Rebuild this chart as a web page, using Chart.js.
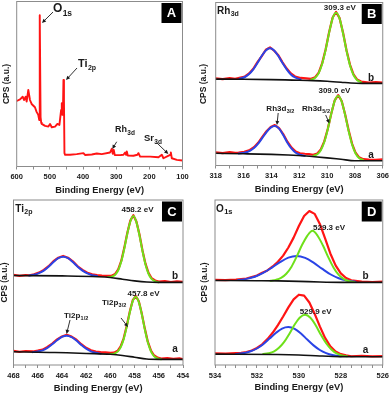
<!DOCTYPE html>
<html>
<head>
<meta charset="utf-8">
<script src="https://cdn.jsdelivr.net/npm/chart.js@4.4.1/dist/chart.umd.min.js"></script>
<style>
  body { margin: 0; background: #fff; width: 392px; height: 395px; overflow: hidden; position: relative; }
  .panel { position: absolute; }
</style>
</head>
<body>
<div class="panel" style="left:0;top:0"><canvas id="cA" width="196" height="197"></canvas></div>
<div class="panel" style="left:196px;top:0"><canvas id="cB" width="196" height="197"></canvas></div>
<div class="panel" style="left:0;top:195px"><canvas id="cC" width="196" height="200"></canvas></div>
<div class="panel" style="left:196px;top:195px"><canvas id="cD" width="196" height="200"></canvas></div>
<script>
// --- A: survey spectrum [binding energy eV, CPS a.u.]
const survey = [[600,39.7],[590,40.7],[582,42.3],[578,40.3],[573,42.3],[570,39.3],[565,46.4],[560,40.3],[555,37.9],[545,35.9],[540,33.1],[535,31.3],[532,28.2],[530.5,91.7],[528,30],[526,26.5],[524.5,25.8],[514.5,24.6],[504.4,24.2],[499.4,25.8],[494.4,23.8],[484.3,24.2],[477.3,25.8],[471.2,25.2],[466,34.3],[464,38.3],[462,31.3],[460.5,34.3],[459,52.4],[457.5,40.3],[456,8.1],[454,7.1],[439,7.1],[419,7.5],[398.8,8.1],[394,7.0],[373.6,7.3],[358.5,7.9],[343.5,7.5],[318.3,8.5],[313.3,10.7],[310.3,7.7],[307.3,10.1],[304.2,6.9],[288,6.9],[278,7.1],[273,8.5],[270,7.1],[268,9.1],[265,6.7],[248,6.5],[236,7.1],[232.8,8.1],[227.8,6.0],[197.6,6.0],[172.4,5.6],[162.4,7.1],[157.4,5.0],[137.3,7.1],[135.2,8.5],[132.2,5.0],[117,4.0],[100,3.6]];

// --- B: Rh 3d (b = upper, a = lower)
const rhRawB = [[318,53.4],[317.5,53.0],[317,53.6],[316.6,53.2],[316.3,53.8],[315.9,54.6],[315.6,56.5],[315.3,59.3],[315.0,63.4],[314.7,67.0],[314.4,71.0],[314.1,72.4],[313.8,70.4],[313.5,67.6],[313.2,63.3],[312.9,59.5],[312.6,56.5],[312.3,54.6],[311.9,53.7],[311.5,53.4],[311.15,53.2],[310.85,54.2],[310.6,57.0],[310.35,62.8],[310.1,71.3],[309.85,81.9],[309.6,90.8],[309.35,94.2],[309.1,90.4],[308.85,81.5],[308.6,70.6],[308.35,61.8],[308.1,55.9],[307.85,52.8],[307.55,51.5],[307.0,50.9],[306.5,51.2],[306,50.8]];
const rhFit32B = [[316.3,53.2],[315.9,54.3],[315.6,56.1],[315.3,59.0],[315.0,62.9],[314.7,67.2],[314.4,70.6],[314.1,71.9],[313.8,70.6],[313.5,67.2],[313.2,62.9],[312.9,59.0],[312.6,55.8],[312.3,54.0],[311.9,52.8]];
const rhFit52B = [[311.15,52.7],[310.85,53.9],[310.6,56.7],[310.35,62.4],[310.1,71.1],[309.85,81.5],[309.6,90.3],[309.35,93.7],[309.1,90.1],[308.85,81.0],[308.6,70.3],[308.35,61.4],[308.1,55.5],[307.85,52.5],[307.55,51.0]];
const rhBgB = [[318,53.0],[316,52.9],[314,52.7],[312.5,52.4],[311,52.1],[310,51.7],[309,51.1],[308.3,50.6],[307.5,50.4],[306,50.4]];
const rhRawA = [[318,8.0],[317.5,7.6],[317,8.2],[316.6,7.7],[316.35,7.9],[315.95,8.4],[315.55,9.5],[315.25,11.2],[314.95,13.9],[314.65,17.5],[314.35,21.0],[314.05,23.6],[313.75,24.8],[313.45,22.9],[313.15,19.3],[312.85,14.6],[312.55,11.0],[312.25,8.6],[311.95,7.5],[311.6,7.2],[311.3,7.0],[311.0,6.6],[310.7,7.4],[310.45,9.9],[310.2,14.8],[309.95,22.4],[309.7,31.8],[309.45,40.0],[309.2,43.2],[308.95,39.6],[308.7,31.3],[308.45,21.6],[308.2,13.3],[307.95,7.8],[307.7,5.0],[307.4,3.9],[307,3.6],[306.5,3.4],[306,3.7]];
const rhFit32A = [[316.35,7.4],[315.95,7.8],[315.55,9.0],[315.25,10.7],[314.95,13.4],[314.65,16.9],[314.35,20.5],[314.05,23.2],[313.75,24.2],[313.45,22.6],[313.15,18.7],[312.85,14.0],[312.55,10.3],[312.25,7.8],[311.95,6.6],[311.6,5.9]];
const rhFit52A = [[311.0,5.8],[310.7,6.9],[310.45,9.3],[310.2,14.4],[309.95,22.3],[309.7,31.7],[309.45,39.6],[309.2,42.6],[308.95,39.2],[308.7,30.9],[308.45,21.1],[308.2,12.8],[307.95,7.4],[307.7,4.6],[307.4,3.3]];
const rhBgA = [[318,7.5],[316,7.2],[314,6.8],[312.8,6.4],[311.5,5.8],[310.9,5.4],[310,4.7],[309,3.8],[308,2.9],[306,2.9]];

// --- C: Ti 2p
const tiRawB = [[468,54.6],[467.5,54.0],[467,54.5],[466.7,54.4],[466.3,55.0],[465.9,56.0],[465.5,57.6],[465.1,59.9],[464.7,62.9],[464.3,65.0],[463.9,66.1],[463.5,65.0],[463.1,62.8],[462.7,59.8],[462.3,57.6],[461.9,55.9],[461.5,54.9],[461.1,54.5],[460.7,54.2],[460.2,54.0],[459.9,54.1],[459.6,55.2],[459.35,57.9],[459.1,63.1],[458.85,71.0],[458.6,80.0],[458.35,87.5],[458.1,90.8],[457.85,87.0],[457.6,79.2],[457.35,69.6],[457.1,61.4],[456.85,55.8],[456.6,52.7],[456.3,51.2],[456,50.6],[455.5,50.9],[455,50.3],[454.5,50.7],[454,50.4]];
const tiFit12B = [[466.7,54.2],[466.3,54.7],[465.9,55.7],[465.5,57.2],[465.1,59.6],[464.7,62.4],[464.3,64.7],[463.9,65.6],[463.5,64.7],[463.1,62.4],[462.7,59.6],[462.3,57.2],[461.9,55.5],[461.5,54.4],[461.1,53.9]];
const tiFit32B = [[460.2,53.3],[459.9,53.5],[459.6,54.7],[459.35,57.4],[459.1,62.7],[458.85,70.5],[458.6,79.6],[458.35,87.0],[458.1,90.3],[457.85,86.6],[457.6,78.7],[457.35,69.2],[457.1,60.9],[456.85,55.3],[456.6,52.2],[456.3,50.7],[456.0,50.1]];
const tiBgB = [[468,54.2],[464,54.0],[461,53.5],[460,53.0],[459,52.0],[458,51.0],[457,50.3],[456,50.1],[454,50.1]];
const tiRawA = [[468,8.6],[467.5,8.0],[467,8.5],[466.4,8.2],[466,8.7],[465.6,9.3],[465.2,10.9],[464.8,13.0],[464.4,15.5],[464.0,17.3],[463.6,18.3],[463.2,17.2],[462.8,15.3],[462.4,12.6],[462.0,10.4],[461.6,8.9],[461.2,8.1],[460.8,7.8],[460.4,7.6],[460.0,7.3],[459.7,7.5],[459.4,8.6],[459.15,11.3],[458.9,16.2],[458.65,23.6],[458.4,32.2],[458.15,39.3],[457.9,41.8],[457.65,38.6],[457.4,31.0],[457.15,21.9],[456.9,14.0],[456.65,8.8],[456.4,5.9],[456.1,4.5],[455.8,3.9],[455.3,4.2],[454.8,3.7],[454.3,4.0],[454,3.6]];
const tiFit12A = [[466.4,7.8],[466.0,8.2],[465.6,8.9],[465.2,10.4],[464.8,12.6],[464.4,15.0],[464.0,17.0],[463.6,17.8],[463.2,16.9],[462.8,14.8],[462.4,12.2],[462.0,9.9],[461.6,8.3],[461.2,7.4],[460.8,6.9]];
const tiFit32A = [[460.0,6.6],[459.7,6.85],[459.4,8.1],[459.15,10.7],[458.9,15.7],[458.65,23.1],[458.4,31.7],[458.15,38.7],[457.9,41.2],[457.65,38.1],[457.4,30.6],[457.15,21.5],[456.9,13.6],[456.65,8.3],[456.4,5.4],[456.1,3.95],[455.8,3.5]];
const tiBgA = [[468,8.0],[465,7.6],[463.6,7.4],[462,7.0],[460,6.5],[459,5.8],[458,4.7],[457,3.6],[456,3.4],[454,3.4]];

// --- D: O 1s
const oRawB = [[534,51.6],[533.5,51.4],[533,51.8],[532.5,52.4],[532,54.2],[531.75,55.9],[531.5,57.3],[531.25,59.7],[531,62.6],[530.75,66.3],[530.5,71.2],[530.25,77.2],[530,84.2],[529.75,90.3],[529.5,93.3],[529.25,91.6],[529,85.5],[528.75,76.7],[528.5,67.6],[528.25,60.4],[528,55.5],[527.75,52.7],[527.5,51.3],[527,50.6],[526.5,50.3],[526,50.5]];
const oFitLB = [[532.9,51.5],[532.5,52.2],[532.1,53.5],[531.7,55.8],[531.3,58.9],[530.9,62.3],[530.5,65.1],[530.1,66.1],[529.7,64.9],[529.3,62.0],[528.9,58.4],[528.5,55.0],[528.1,52.6],[527.7,51.2],[527.3,50.5]];
const oFitMB = [[531.35,51.1],[531.1,51.6],[530.85,52.75],[530.6,55.3],[530.35,59.6],[530.1,65.8],[529.85,72.7],[529.6,78.3],[529.35,81.3],[529.1,78.2],[528.85,72.4],[528.6,65.4],[528.35,59.1],[528.1,54.6],[527.85,52.05],[527.6,50.8],[527.35,50.3]];
const oBgB = [[534,51.2],[532,51.1],[531,51.0],[530,50.7],[529,50.3],[528,50.1],[526,50.1]];
const oRawA = [[534,7.0],[533.5,6.9],[533,7.2],[532.75,7.3],[532.5,7.9],[532.25,8.8],[532,10.3],[531.75,12.5],[531.5,15.7],[531.25,19.5],[531,24.2],[530.75,29.4],[530.5,34.9],[530.25,39.8],[530,42.6],[529.75,42.0],[529.5,37.9],[529.25,31.1],[529,23.4],[528.75,16.4],[528.5,11.3],[528.25,8.2],[528,6.6],[527.75,5.8],[527.5,5.3],[527,5.6],[526.5,5.2],[526,5.4]];
const oFitLA = [[533.0,6.7],[532.6,7.3],[532.3,8.3],[532.0,10.0],[531.7,12.6],[531.4,16.0],[531.1,19.4],[530.8,22.1],[530.5,23.0],[530.2,21.9],[529.9,19.1],[529.6,15.4],[529.3,11.9],[529.0,9.1],[528.7,7.2],[528.4,6.0],[528.0,5.3]];
const oFitMA = [[531.7,6.65],[531.45,7.1],[531.2,8.1],[530.95,10.4],[530.7,14.0],[530.45,19.0],[530.2,24.5],[529.95,28.8],[529.7,30.4],[529.45,28.6],[529.2,24.1],[528.95,18.3],[528.7,13.2],[528.45,9.4],[528.2,7.0],[527.95,5.8],[527.7,5.35]];
const oBgA = [[534,6.6],[531,6.4],[530,6.1],[529,5.5],[528,5.1],[526,5.0]];

const FONT = '"Liberation Sans", Arial, Helvetica, sans-serif';
const INK = '#1a1a1a';
const RED = '#ff1414', BLUE = '#2a44e6', GREEN = '#6ee01a', BLACK = '#111111';

function line(points, color, width, order, smooth) {
    return {
        data: points.map(p => ({ x: p[0], y: p[1] })),
        borderColor: color,
        borderWidth: width,
        pointRadius: 0,
        fill: false,
        order: order,
        tension: smooth ? 0.4 : 0,
        cubicInterpolationMode: smooth ? 'monotone' : 'default',
        borderJoinStyle: 'round',
        borderCapStyle: 'round'
    };
}

function subText(ctx, x, y, main, sub, size, subSize) {
    // y = vertical middle of the capitals
    const base = y + size * 0.36;
    ctx.font = 'bold ' + size + 'px ' + FONT;
    ctx.textAlign = 'left';
    ctx.textBaseline = 'alphabetic';
    ctx.fillText(main, x, base);
    const w = ctx.measureText(main).width;
    ctx.font = 'bold ' + subSize + 'px ' + FONT;
    ctx.fillText(sub, x + w + 0.3, base + size * 0.28);
}

function arrow(ctx, x1, y1, x2, y2) {
    const ang = Math.atan2(y2 - y1, x2 - x1);
    ctx.beginPath();
    ctx.moveTo(x1, y1);
    ctx.lineTo(x2 - 3 * Math.cos(ang), y2 - 3 * Math.sin(ang));
    ctx.stroke();
    ctx.beginPath();
    ctx.moveTo(x2, y2);
    ctx.lineTo(x2 - 4.5 * Math.cos(ang - 0.45), y2 - 4.5 * Math.sin(ang - 0.45));
    ctx.lineTo(x2 - 4.5 * Math.cos(ang + 0.45), y2 - 4.5 * Math.sin(ang + 0.45));
    ctx.closePath();
    ctx.fill();
}

function decoPlugin(deco) {
    return {
        id: 'deco',
        afterDraw(chart) {
            const { ctx, chartArea: a, scales: { x, y } } = chart;
            ctx.save();
            ctx.strokeStyle = '#8c8c8c';
            ctx.lineWidth = 1;
            ctx.strokeRect(a.left, a.top, a.right - a.left, a.bottom - a.top);

            // panel letter
            ctx.fillStyle = '#000';
            ctx.fillRect(a.right - 21, a.top + 1.5, 20, 20);
            ctx.fillStyle = '#fff';
            ctx.font = 'bold 13px ' + FONT;
            ctx.textAlign = 'center';
            ctx.textBaseline = 'middle';
            ctx.fillText(deco.letter, a.right - 11, a.top + 12);

            ctx.fillStyle = INK;
            ctx.strokeStyle = INK;
            ctx.lineWidth = 0.9;
            (deco.subs || []).forEach(s => {
                subText(ctx, x.getPixelForValue(s.x), y.getPixelForValue(s.y), s.main, s.sub, s.size, s.subSize);
            });
            (deco.texts || []).forEach(t => {
                ctx.font = 'bold ' + t.size + 'px ' + FONT;
                ctx.textAlign = 'center';
                ctx.textBaseline = 'middle';
                ctx.fillText(t.text, x.getPixelForValue(t.x), y.getPixelForValue(t.y));
            });
            (deco.arrows || []).forEach(r => {
                arrow(ctx, x.getPixelForValue(r[0]), y.getPixelForValue(r[1]),
                    x.getPixelForValue(r[2]), y.getPixelForValue(r[3]));
            });
            ctx.restore();
        }
    };
}

function makePanel(id, p) {
    const ctx = document.getElementById(id).getContext('2d');
    return new Chart(ctx, {
        type: 'line',
        data: { datasets: p.datasets },
        options: {
            responsive: false,
            animation: false,
            events: [],
            layout: { padding: { left: 0, top: p.padTop, right: p.padRight, bottom: 0 } },
            plugins: { legend: { display: false }, tooltip: { enabled: false } },
            scales: {
                x: {
                    type: 'linear',
                    reverse: true,
                    min: p.min,
                    max: p.max,
                    border: { display: false },
                    grid: { display: true, drawOnChartArea: false, drawTicks: true, tickLength: 3, color: '#8c8c8c' },
                    ticks: {
                        stepSize: p.minor,
                        autoSkip: false,
                        maxRotation: 0,
                        padding: 3,
                        color: INK,
                        font: { family: FONT, size: 7.5, weight: 'bold' },
                        callback: v => (Math.abs(Math.round(v / p.major) * p.major - v) < 1e-6 ? String(Math.round(v)) : '')
                    },
                    title: {
                        display: true,
                        text: 'Binding Energy (eV)',
                        color: INK,
                        font: { family: FONT, size: 9.3, weight: 'bold' },
                        padding: { top: 0, bottom: p.xTitlePad }
                    },
                    afterFit: s => { s.height = p.xHeight; }
                },
                y: {
                    min: 0,
                    max: 100,
                    border: { display: false },
                    grid: { display: false },
                    ticks: { display: false },
                    title: {
                        display: true,
                        text: 'CPS (a.u.)',
                        color: INK,
                        font: { family: FONT, size: 8.5, weight: 'bold' },
                        padding: { top: p.yTitlePad, bottom: 0 }
                    },
                    afterFit: s => { s.width = p.yWidth; }
                }
            }
        },
        plugins: [decoPlugin(p.deco)]
    });
}

function fitSet(raw, fit1, fit2, bg) {
    return [
        line(raw, RED, 2.2, 5, false),
        line(fit1, BLUE, 2, 3, true),
        line(fit2, GREEN, 2, 2, true),
        line(bg, BLACK, 1.6, 1, true)
    ];
}

makePanel('cA', {
    min: 100, max: 600, minor: 50, major: 100,
    padTop: 1.5, padRight: 13.5, yWidth: 16.7, xHeight: 30.5, xTitlePad: 1.4, yTitlePad: 1.2,
    datasets: [line(survey, RED, 1.9, 1, false)],
    deco: {
        letter: 'A',
        subs: [
            { main: 'O', sub: '1s', x: 490.5, y: 96.1, size: 12, subSize: 8.5 },
            { main: 'Ti', sub: '2p', x: 415.1, y: 62.7, size: 11, subSize: 7 },
            { main: 'Rh', sub: '3d', x: 303.6, y: 22.7, size: 9, subSize: 6.5 },
            { main: 'Sr', sub: '3d', x: 216.1, y: 17.3, size: 9.5, subSize: 6.5 }
        ],
        arrows: [[490.5, 93.6, 523.7, 87.0], [418.1, 59.7, 451.3, 52.4], [298.4, 15.0, 311.7, 10.6], [177.8, 14.4, 142.8, 7.6]]
    }
});

makePanel('cB', {
    min: 306, max: 318, minor: 1, major: 2,
    padTop: 2.5, padRight: 7, yWidth: 19.7, xHeight: 31.5, xTitlePad: 2.4, yTitlePad: 2.7,
    datasets: fitSet(rhRawA, rhFit32A, rhFit52A, rhBgA).concat(fitSet(rhRawB, rhFit32B, rhFit52B, rhBgB)),
    deco: {
        letter: 'B',
        subs: [
            { main: 'Rh', sub: '3d', x: 317.9, y: 95.4, size: 10, subSize: 7 },
            { main: 'Rh3d', sub: '3/2', x: 314.36, y: 35.3, size: 8, subSize: 5.5 },
            { main: 'Rh3d', sub: '5/2', x: 311.8, y: 35.3, size: 8, subSize: 5.5 }
        ],
        texts: [
            { text: '309.3 eV', x: 309.08, y: 96.6, size: 8 },
            { text: '309.0 eV', x: 309.47, y: 46.0, size: 8 },
            { text: 'b', x: 306.84, y: 53.7, size: 10 },
            { text: 'a', x: 306.84, y: 6.4, size: 10 }
        ],
        arrows: [[313.51, 32.2, 313.6, 24.8], [310.1, 31.0, 309.83, 25.8]]
    }
});

makePanel('cC', {
    min: 454, max: 468, minor: 1, major: 2,
    padTop: 5, padRight: 13, yWidth: 13.5, xHeight: 30, xTitlePad: 0.9, yTitlePad: 0,
    datasets: fitSet(tiRawA, tiFit12A, tiFit32A, tiBgA).concat(fitSet(tiRawB, tiFit12B, tiFit32B, tiBgB)),
    deco: {
        letter: 'C',
        subs: [
            { main: 'Ti', sub: '2p', x: 467.85, y: 95.2, size: 10, subSize: 7 },
            { main: 'Ti2p', sub: '1/2', x: 463.83, y: 30.3, size: 8, subSize: 5.5 },
            { main: 'Ti2p', sub: '3/2', x: 460.69, y: 38.2, size: 8, subSize: 5.5 }
        ],
        texts: [
            { text: '458.2 eV', x: 457.76, y: 94.2, size: 8 },
            { text: '457.8 eV', x: 457.26, y: 43.3, size: 8 },
            { text: 'b', x: 454.66, y: 53.9, size: 10 },
            { text: 'a', x: 454.66, y: 9.7, size: 10 }
        ],
        arrows: [[463.33, 27.3, 463.62, 18.8], [459.12, 28.5, 458.54, 23.0]]
    }
});

makePanel('cD', {
    min: 526, max: 534, minor: 0.5, major: 2,
    padTop: 5, padRight: 8, yWidth: 19, xHeight: 30, xTitlePad: 1.9, yTitlePad: 3.2,
    datasets: fitSet(oRawA, oFitLA, oFitMA, oBgA).concat(fitSet(oRawB, oFitLB, oFitMB, oBgB)),
    deco: {
        letter: 'D',
        subs: [
            { main: 'O', sub: '1s', x: 533.95, y: 95.2, size: 10, subSize: 7.5 }
        ],
        texts: [
            { text: '529.3 eV', x: 528.56, y: 83.3, size: 8 },
            { text: '529.9 eV', x: 529.2, y: 32.4, size: 8 },
            { text: 'b', x: 526.82, y: 53.5, size: 10 },
            { text: 'a', x: 526.82, y: 9.1, size: 10 }
        ]
    }
});
</script>
</body>
</html>
